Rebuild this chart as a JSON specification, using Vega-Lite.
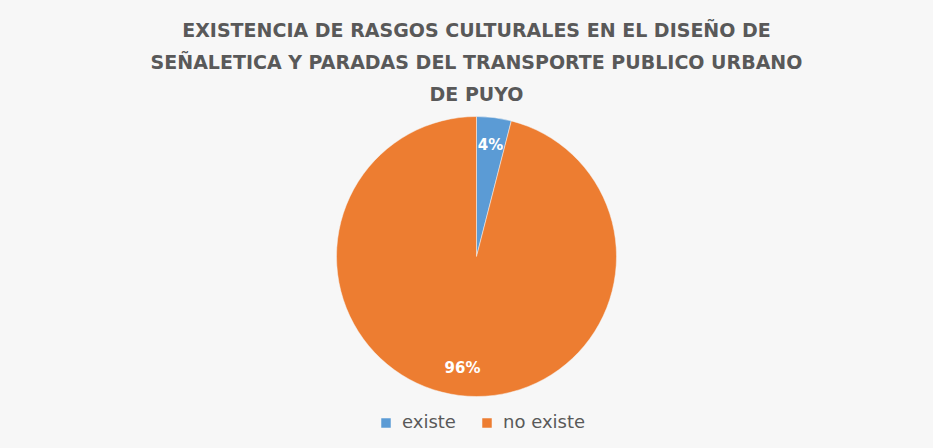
{
  "$schema": "https://vega.github.io/schema/vega-lite/v6.json",
  "width": 933,
  "height": 448,
  "autosize": {"type": "fit", "contains": "padding"},
  "padding": {"left": 24, "right": 4, "top": 22, "bottom": 44},
  "background": "#f7f7f7",
  "title": {
    "text": ["EXISTENCIA DE RASGOS CULTURALES EN EL DISEÑO DE", "SEÑALETICA Y PARADAS DEL TRANSPORTE PUBLICO URBANO", "DE PUYO"],
    "font": "DejaVu Sans",
    "fontSize": 19,
    "fontWeight": "bold",
    "color": "#595959",
    "lineHeight": 32,
    "anchor": "middle",
    "offset": 4
  },
  "data": {
    "values": [
      {"categoria": "existe", "porcentaje": 4, "etiqueta": "4%"},
      {"categoria": "no existe", "porcentaje": 96, "etiqueta": "96%"}
    ]
  },
  "encoding": {
    "theta": {"field": "porcentaje", "type": "quantitative", "stack": true},
    "color": {
      "field": "categoria",
      "type": "nominal",
      "scale": {"domain": ["existe", "no existe"], "range": ["#5b9bd5", "#ed7d31"]},
      "legend": {
        "orient": "none",
        "legendX": 353,
        "legendY": 305,
        "direction": "horizontal",
        "title": null,
        "labelFont": "DejaVu Sans",
        "labelFontSize": 18,
        "labelColor": "#595959",
        "symbolType": "square",
        "symbolSize": 90,
        "symbolStrokeWidth": 0,
        "labelOffset": 7,
        "columnPadding": 22
      }
    }
  },
  "layer": [
    {"mark": {"type": "arc", "outerRadius": 140, "stroke": "#f7f7f7", "strokeWidth": 0.5}},
    {
      "mark": {"type": "text", "radius": 112, "font": "DejaVu Sans", "fontSize": 15, "fontWeight": "bold"},
      "encoding": {"text": {"field": "etiqueta", "type": "nominal"}, "color": {"value": "white"}}
    }
  ],
  "config": {"view": {"stroke": null}}
}
